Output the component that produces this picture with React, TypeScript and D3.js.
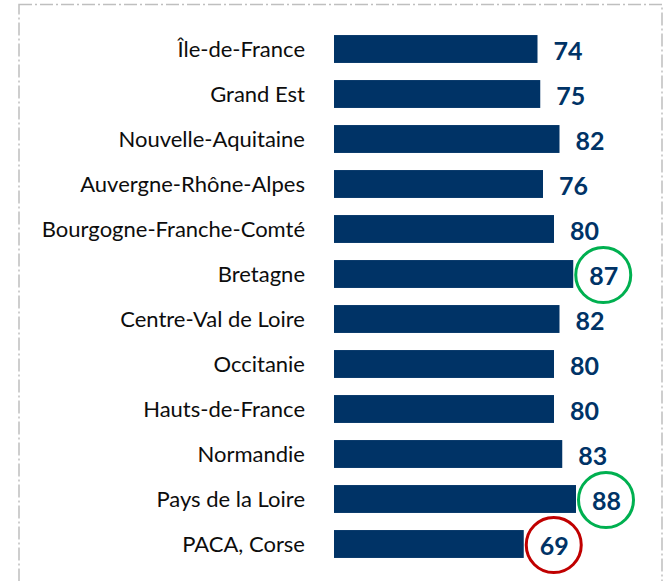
import React from "react";
import * as d3 from "d3";

const categories = [
  "Île-de-France",
  "Grand Est",
  "Nouvelle-Aquitaine",
  "Auvergne-Rhône-Alpes",
  "Bourgogne-Franche-Comté",
  "Bretagne",
  "Centre-Val de Loire",
  "Occitanie",
  "Hauts-de-France",
  "Normandie",
  "Pays de la Loire",
  "PACA, Corse",
];
const values = [74, 75, 82, 76, 80, 87, 82, 80, 80, 83, 88, 69];
const highlightHigh = ["Bretagne", "Pays de la Loire"];
const highlightLow = ["PACA, Corse"];

const W = 669;
const H = 581;
const NAVY = "#003366";

export default function App() {
  const x = d3.scaleLinear().domain([0, 88]).range([334, 576]);
  const y = d3
    .scaleBand<string>()
    .domain(categories)
    .range([26.5, 566.5])
    .paddingInner(0.38)
    .paddingOuter(0.19);
  const bw = y.bandwidth();

  return (
    <svg
      width={W}
      height={H}
      style={{ position: "absolute", left: 0, top: 0, background: "#fff" }}
    >
      <rect
        x={19}
        y={4.5}
        width={643}
        height={H + 20}
        fill="none"
        stroke="#bfbfbf"
        strokeWidth={1.5}
        strokeDasharray="13 3 2 3"
      />
      {categories.map((c, i) => {
        const v = values[i];
        const cy = (y(c) as number) + bw / 2;
        const x1 = x(v);
        const tx = x1 + 16;
        const ring = highlightHigh.includes(c)
          ? "#00b050"
          : highlightLow.includes(c)
          ? "#c00000"
          : null;
        return (
          <g key={c}>
            <text
              x={305}
              y={cy + 7.5}
              textAnchor="end"
              fontFamily="Lato, 'Open Sans', sans-serif"
              fontSize={22}
              fill="#0d0d0d"
            >
              {c}
            </text>
            <rect
              x={x(0)}
              y={y(c)}
              width={x1 - x(0)}
              height={bw}
              fill={NAVY}
            />
            <text
              x={tx}
              y={cy + 10.5}
              textAnchor="start"
              fontFamily="Lato, 'Open Sans', sans-serif"
              fontWeight="bold"
              fontSize={25}
              fill={NAVY}
            >
              {v}
            </text>
            {ring && (
              <circle
                cx={tx + 14}
                cy={cy + 1}
                r={27.5}
                fill="none"
                stroke={ring}
                strokeWidth={3}
              />
            )}
          </g>
        );
      })}
    </svg>
  );
}
